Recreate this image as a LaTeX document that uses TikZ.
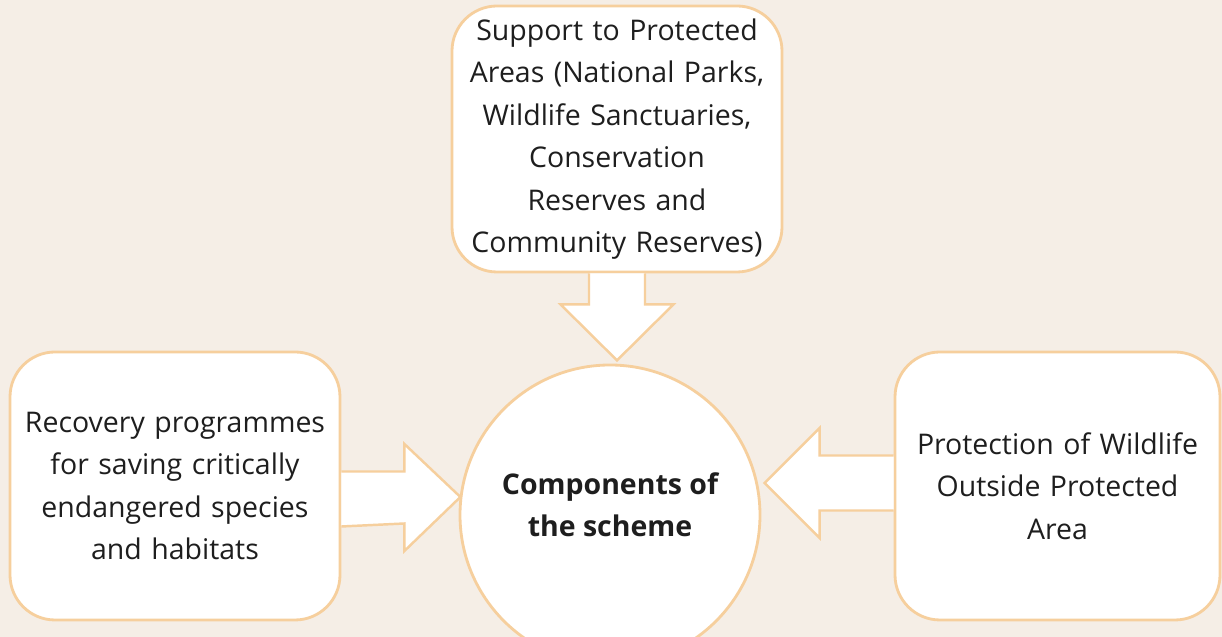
\documentclass[tikz,border=0pt]{standalone}
\usepackage{fontspec}
\setmainfont{Open Sans}
\usepackage{tikz}
\usetikzlibrary{positioning, calc}
\definecolor{schbg}{HTML}{F5EEE6}
\definecolor{schedge}{HTML}{F6CF9D}
\definecolor{schtext}{HTML}{1E1E1E}

\begin{document}
\begin{tikzpicture}[
    box/.style={draw=schedge, fill=white, line width=1.6pt, rounded corners=0.9cm,
                align=center, text=schtext, font=\fontsize{16.2}{24.2}\selectfont},
    hub/.style={draw=schedge, fill=white, line width=1.6pt, circle,
                minimum size=6cm, align=center, text=schtext,
                font=\fontsize{16.2}{24.2}\selectfont\bfseries},
    blockarrow/.style={draw=schedge, fill=white, line width=1.4pt, line join=miter},
]
    % Background
    \fill[schbg] (0,0) rectangle (24.44,12.74);
    \useasboundingbox (0,0) rectangle (24.44,12.74);
    \clip (0,0) rectangle (24.44,12.74);

    % Centre circle
    \node[hub, text depth=12pt] (hub) at (12.2,2.44) {Components of\\the scheme};

    % Boxes
    \node[box, minimum width=6.6cm, minimum height=5.32cm, text width=6.1cm] (top) at (12.34,9.96)
        {Support to Protected\\Areas (National Parks,\\Wildlife Sanctuaries,\\Conservation\\Reserves and\\Community Reserves)};
    \node[box, minimum width=6.6cm, minimum height=5.36cm, text width=6.1cm] (left) at (3.5,3.02)
        {Recovery programmes\\for saving critically\\endangered species\\and habitats};
    \node[box, minimum width=6.5cm, minimum height=5.36cm, text width=6.0cm] (right) at (21.15,3.02)
        {Protection of Wildlife\\Outside Protected\\Area};

    % Arrows
    \draw[blockarrow] ($(top.south)+(-0.56,0)$) -- ++(0,-0.62) -- ++(-0.57,0)
        -- ($(top.south)+(0,-1.74)$) -- ($(top.south)+(1.13,-0.62)$) -- ++(-0.57,0)
        -- ($(top.south)+(0.56,0)$);
    \draw[blockarrow] ($(left.east)+(0,0.29)$) -- ++(1.26,0) -- ++(0,0.55)
        -- ($(left.east)+(2.38,-0.22)$) -- ($(left.east)+(1.26,-1.3)$) -- ++(0,0.55)
        -- ($(left.east)+(0,-0.81)$);
    \draw[blockarrow] ($(right.west)+(0,0.61)$) -- ++(-1.48,0) -- ++(0,0.55)
        -- ($(right.west)+(-2.58,0.06)$) -- ($(right.west)+(-1.48,-1.04)$) -- ++(0,0.55)
        -- ($(right.west)+(0,-0.49)$);
\end{tikzpicture}
\end{document}
